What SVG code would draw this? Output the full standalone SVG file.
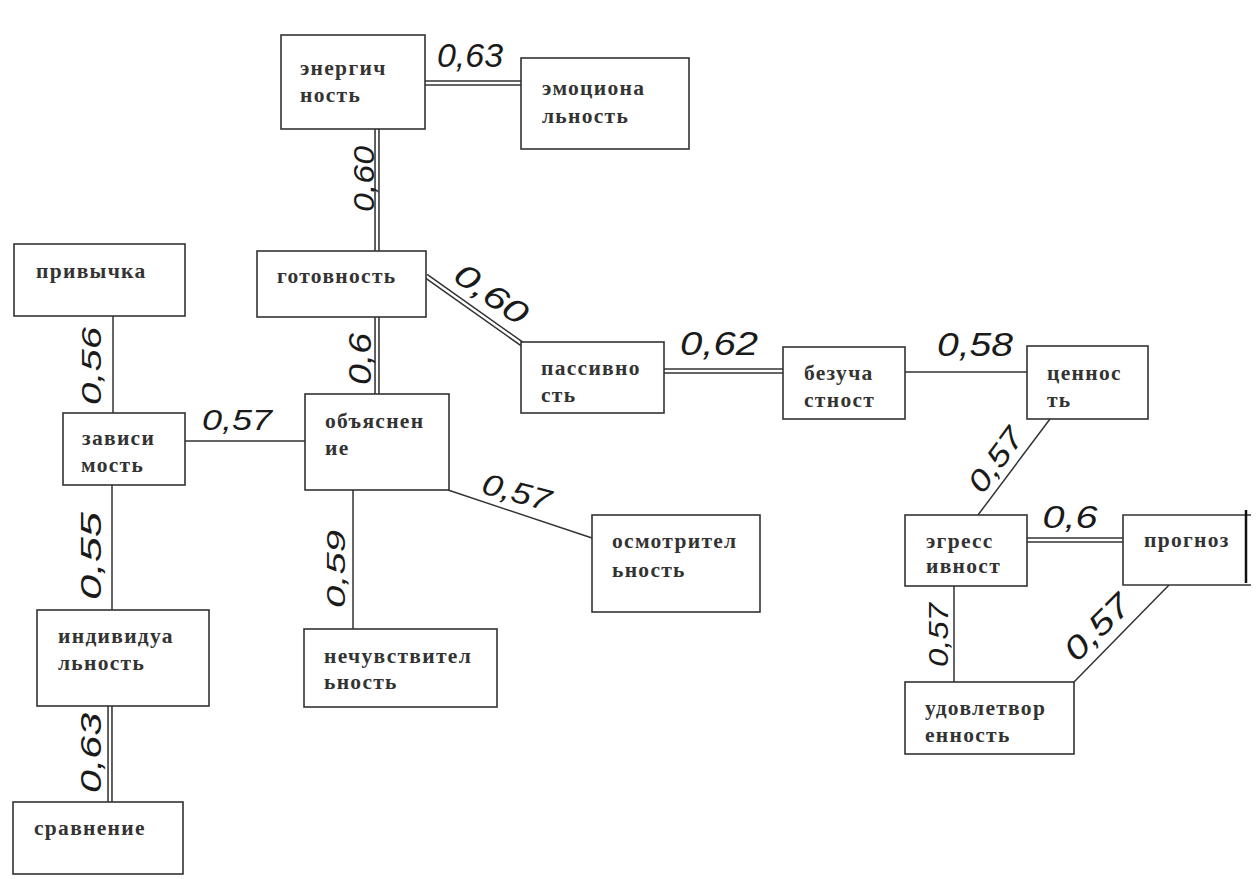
<svg xmlns="http://www.w3.org/2000/svg" width="1259" height="879" viewBox="0 0 1259 879">
<style>
.box{fill:#fff;stroke:#333;stroke-width:1.6}
.t{font-family:"Liberation Serif",serif;font-weight:bold;font-size:21.5px;letter-spacing:1.3px;fill:#333}
.s{fill:none;stroke:#333;stroke-width:1.5}
.d1{fill:none;stroke:#333;stroke-width:5.5}
.d2{fill:none;stroke:#fff;stroke-width:2.4}
.h{font-family:"Liberation Sans",sans-serif;font-style:italic;fill:#1a1a1a;text-anchor:middle}
</style>
<rect width="1259" height="879" fill="#fff"/>
<g id="connectors">
  <path class="d1" d="M425 83H521 M377 129V251 M377 317V394 M426 276L522 344 M664 371H783 M1027 540H1123 M110 706V802"/>
  <path class="d2" d="M425 83H521 M377 129V251 M377 317V394 M426 276L522 344 M664 371H783 M1027 540H1123 M110 706V802"/>
  <path class="s" d="M905 372H1027 M1050 419L978 515 M954 586V682 M1169 585L1074 682 M113 316V413 M185 441H305 M112 485V610 M353 490V629 M448 490L592 538"/>
</g>
<g id="labels">
  <text class="h" font-size="34" x="470" y="67" textLength="66" lengthAdjust="spacingAndGlyphs">0,63</text>
  <text class="h" font-size="30" transform="translate(374 179) rotate(-90)" textLength="66" lengthAdjust="spacingAndGlyphs">0,60</text>
  <text class="h" font-size="32" transform="translate(485 303) rotate(35)" textLength="82" lengthAdjust="spacingAndGlyphs">0,60</text>
  <text class="h" font-size="32" transform="translate(371 359) rotate(-90)" textLength="52" lengthAdjust="spacingAndGlyphs">0,6</text>
  <text class="h" font-size="34" x="719" y="355" textLength="78" lengthAdjust="spacingAndGlyphs">0,62</text>
  <text class="h" font-size="34" x="975" y="356" textLength="76" lengthAdjust="spacingAndGlyphs">0,58</text>
  <text class="h" font-size="30" x="237" y="430" textLength="70" lengthAdjust="spacingAndGlyphs">0,57</text>
  <text class="h" font-size="28" transform="translate(101 366) rotate(-90)" textLength="78" lengthAdjust="spacingAndGlyphs">0,56</text>
  <text class="h" font-size="30" transform="translate(101 556) rotate(-90)" textLength="88" lengthAdjust="spacingAndGlyphs">0,55</text>
  <text class="h" font-size="30" transform="translate(101 753) rotate(-90)" textLength="80" lengthAdjust="spacingAndGlyphs">0,63</text>
  <text class="h" font-size="26" transform="translate(345 569) rotate(-90)" textLength="78" lengthAdjust="spacingAndGlyphs">0,59</text>
  <text class="h" font-size="30" transform="translate(514 502) rotate(15)" textLength="70" lengthAdjust="spacingAndGlyphs">0,57</text>
  <text class="h" font-size="30" transform="translate(1004 466) rotate(-54)" textLength="72" lengthAdjust="spacingAndGlyphs">0,57</text>
  <text class="h" font-size="32" x="1070" y="528" textLength="55" lengthAdjust="spacingAndGlyphs">0,6</text>
  <text class="h" font-size="28" transform="translate(948 635) rotate(-90)" textLength="64" lengthAdjust="spacingAndGlyphs">0,57</text>
  <text class="h" font-size="32" transform="translate(1105 635) rotate(-45)" textLength="80" lengthAdjust="spacingAndGlyphs">0,57</text>
</g>
<g id="n-energ"><rect class="box" x="281" y="35" width="144" height="94"/><text class="t" x="300" y="75">энергич</text><text class="t" x="300" y="102">ность</text></g>
<g id="n-emoc"><rect class="box" x="521" y="58" width="168" height="91"/><text class="t" x="542" y="95">эмоциона</text><text class="t" x="542" y="123">льность</text></g>
<g id="n-gotov"><rect class="box" x="257" y="251" width="169" height="66"/><text class="t" x="277" y="283">готовность</text></g>
<g id="n-obyasn"><rect class="box" x="305" y="394" width="144" height="96"/><text class="t" x="325" y="428">объяснен</text><text class="t" x="325" y="455">ие</text></g>
<g id="n-passiv"><rect class="box" x="521" y="342" width="143" height="71"/><text class="t" x="541" y="375">пассивно</text><text class="t" x="541" y="402">сть</text></g>
<g id="n-bezuch"><rect class="box" x="783" y="347" width="122" height="72"/><text class="t" x="804" y="380">безуча</text><text class="t" x="804" y="407">стност</text></g>
<g id="n-cennost"><rect class="box" x="1027" y="346" width="121" height="73"/><text class="t" x="1047" y="380">ценнос</text><text class="t" x="1047" y="407">ть</text></g>
<g id="n-egress"><rect class="box" x="905" y="515" width="122" height="71"/><text class="t" x="926" y="548">эгресс</text><text class="t" x="926" y="573">ивност</text></g>
<g id="n-prognoz"><path class="box" d="M1251 515H1123V585H1251"/><text class="t" x="1144" y="547">прогноз</text><line x1="1246" y1="510" x2="1246" y2="583" stroke="#111" stroke-width="2.5"/></g>
<g id="n-udovl"><rect class="box" x="905" y="682" width="169" height="72"/><text class="t" x="925" y="715">удовлетвор</text><text class="t" x="925" y="742">енность</text></g>
<g id="n-osmotr"><rect class="box" x="592" y="515" width="168" height="97"/><text class="t" x="612" y="548">осмотрител</text><text class="t" x="612" y="577">ьность</text></g>
<g id="n-nechuv"><rect class="box" x="304" y="629" width="193" height="78"/><text class="t" x="324" y="663">нечувствител</text><text class="t" x="324" y="689">ьность</text></g>
<g id="n-privych"><rect class="box" x="14" y="244" width="171" height="72"/><text class="t" x="36" y="278">привычка</text></g>
<g id="n-zavis"><rect class="box" x="63" y="413" width="122" height="72"/><text class="t" x="82" y="445">зависи</text><text class="t" x="81" y="472">мость</text></g>
<g id="n-individ"><rect class="box" x="37" y="610" width="172" height="96"/><text class="t" x="58" y="643">индивидуа</text><text class="t" x="58" y="670">льность</text></g>
<g id="n-sravn"><rect class="box" x="13" y="802" width="170" height="72"/><text class="t" x="34" y="835">сравнение</text></g>
</svg>
